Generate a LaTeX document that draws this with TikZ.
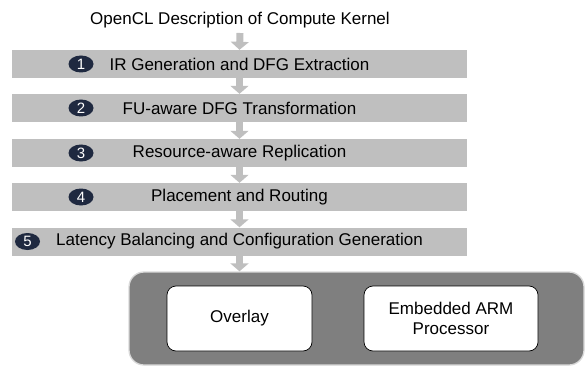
\documentclass[tikz,border=0pt]{standalone}
\usepackage{fontspec}
\setmainfont{Liberation Sans}
\usetikzlibrary{arrows.meta,shapes.geometric}
\definecolor{bargray}{HTML}{BFBFBF}
\definecolor{numblue}{HTML}{1F2940}
\definecolor{boardgray}{HTML}{7F7F7F}
\newcommand{\flowfont}{\fontsize{17}{20.5}\selectfont}

\begin{document}
\begin{tikzpicture}[x=1pt, y=-1pt,
    stage/.style={fill=bargray, minimum width=455pt, minimum height=28pt, inner sep=0pt, font=\flowfont},
    num/.style={ellipse, fill=numblue, text=white, minimum width=25pt, minimum height=17pt, inner sep=0pt, font=\fontsize{15}{15}\selectfont},
    flow/.style={bargray, line width=7pt, -{Triangle[width=18pt, length=8pt]}},
    board/.style={rounded corners=15pt, fill=boardgray, draw=black!15, line width=1.3pt, minimum width=455pt, minimum height=93pt},
    unit/.style={rounded corners=9pt, fill=white, draw=black, line width=0.7pt, minimum height=65pt, align=center, font=\flowfont}]
    \useasboundingbox (0,0) rectangle (585,366);
    \node[font=\flowfont] (src) at (240,20) {OpenCL Description of Compute Kernel};
    \coordinate (in) at (240,33);
    \node[stage] (s1) at (239.5,64) {IR Generation and DFG Extraction};
    \node[stage] (s2) at (239.5,108) {FU-aware DFG Transformation};
    \node[stage] (s3) at (239.5,153) {Resource-aware Replication};
    \node[stage] (s4) at (239.5,197) {Placement and Routing};
    \node[stage] (s5) at (239.5,241.5) {Latency Balancing and Configuration Generation};
    \node[num] (n1) at (81,64) {1};
    \node[num] (n2) at (81,108) {2};
    \node[num] (n3) at (81,153) {3};
    \node[num] (n4) at (81,197) {4};
    \node[num] (n5) at (27.5,241.5) {5};
    \node[board] (fpga) at (356.5,318.5) {};
    \node[unit, minimum width=145pt] (ovl) at (239.5,318.5) {Overlay};
    \node[unit, minimum width=174pt] (arm) at (451,318.5) {Embedded ARM\\Processor};
    \draw[flow] (in) -- (s1.north);
    \draw[flow] (s1.south) -- (s2.north);
    \draw[flow] (s2.south) -- (s3.north);
    \draw[flow] (s3.south) -- (s4.north);
    \draw[flow] (s4.south) -- (s5.north);
    \draw[flow] (s5.south) -- (s5.south |- fpga.north);
\end{tikzpicture}
\end{document}
